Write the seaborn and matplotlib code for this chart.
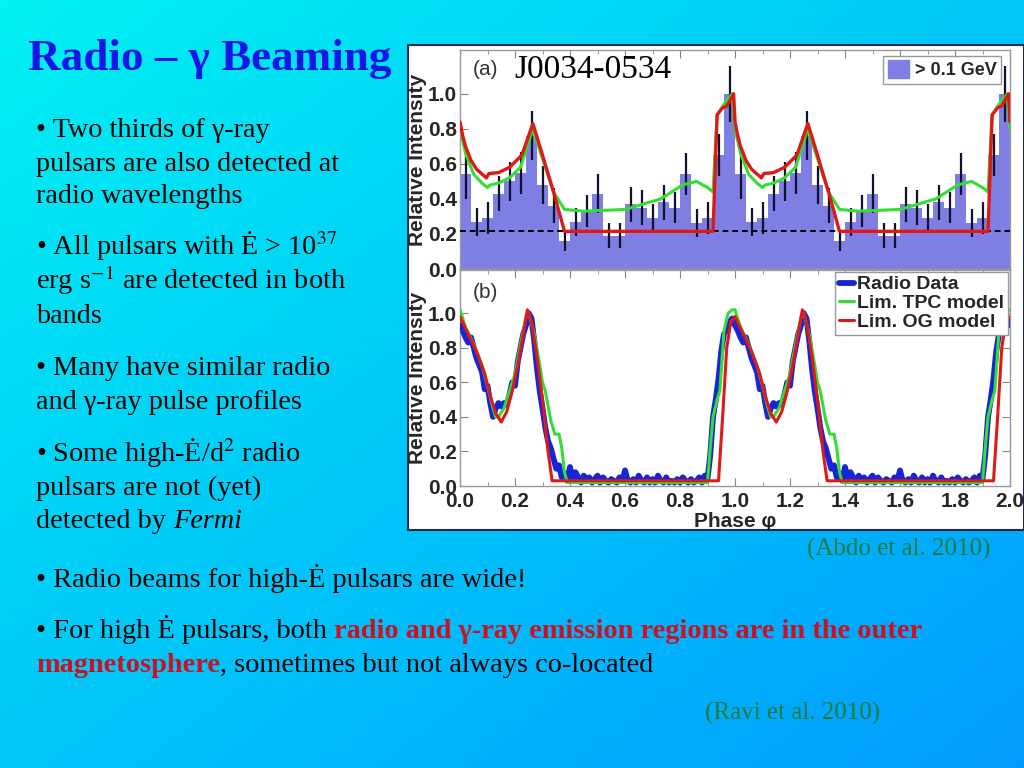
import numpy as np
import matplotlib
matplotlib.use("Agg")
import matplotlib.pyplot as plt
from matplotlib.patches import Patch, Rectangle
from matplotlib.lines import Line2D
import pandas as pd
import seaborn as sns

# gamma-ray light curve (> 0.1 GeV), 25 bins per rotation, shown twice
gamma_counts = [0.54, 0.27, 0.29, 0.43, 0.50, 0.55, 0.76, 0.48, 0.36, 0.16,
                0.27, 0.33, 0.43, 0.19, 0.19, 0.37, 0.35, 0.29, 0.38, 0.35,
                0.54, 0.26, 0.29, 0.65, 1.00]
gamma_err = [0.14, 0.08, 0.09, 0.10, 0.11, 0.12, 0.14, 0.11, 0.10, 0.06,
             0.08, 0.09, 0.11, 0.07, 0.07, 0.10, 0.10, 0.08, 0.10, 0.09,
             0.12, 0.08, 0.09, 0.12, 0.16]
background_level = 0.215

# limited TPC / OG model curves, gamma-ray panel (one rotation)
tpc_gamma_phase = [0.0, 0.02, 0.05, 0.08, 0.10, 0.11, 0.14, 0.18, 0.22, 0.265,
                   0.30, 0.34, 0.38, 0.45, 0.60, 0.73, 0.81, 0.86, 0.90, 0.92,
                   0.935, 0.96, 0.99]
tpc_gamma = [0.80, 0.66, 0.54, 0.49, 0.465, 0.48, 0.49, 0.52, 0.58, 0.80,
             0.63, 0.44, 0.34, 0.33, 0.34, 0.40, 0.48, 0.50, 0.465, 0.44,
             0.88, 0.94, 1.00]
og_gamma_phase = [0.0, 0.01, 0.02, 0.04, 0.06, 0.096, 0.105, 0.14, 0.18, 0.225,
                  0.265, 0.30, 0.34, 0.38, 0.92, 0.935, 0.955, 0.97, 0.995]
og_gamma = [0.84, 0.76, 0.70, 0.62, 0.57, 0.52, 0.545, 0.55, 0.58, 0.65,
            0.83, 0.65, 0.44, 0.215, 0.215, 0.88, 0.92, 0.93, 1.00]

# radio profile, one value every 0.01 in phase
radio = [0.93, 0.90, 0.86, 0.83, 0.86, 0.80, 0.74, 0.70, 0.66, 0.56,
         0.58, 0.48, 0.40, 0.45, 0.48, 0.46, 0.48, 0.47, 0.53, 0.60,
         0.58, 0.72, 0.80, 0.88, 0.93, 1.00, 0.97, 0.84, 0.68, 0.55,
         0.45, 0.34, 0.26, 0.22, 0.16, 0.10, 0.12, 0.05, 0.07, 0.03,
         0.11, 0.04, 0.08, 0.05, 0.02, 0.06, 0.03, 0.05, 0.02, 0.04,
         0.06, 0.02, 0.05, 0.03, 0.02, 0.04, 0.03, 0.02, 0.05, 0.03,
         0.09, 0.03, 0.02, 0.04, 0.02, 0.06, 0.03, 0.02, 0.05, 0.02,
         0.04, 0.02, 0.06, 0.03, 0.02, 0.05, 0.02, 0.03, 0.02, 0.04,
         0.02, 0.05, 0.03, 0.02, 0.04, 0.02, 0.03, 0.05, 0.02, 0.06,
         0.04, 0.18, 0.40, 0.50, 0.62, 0.78, 0.88, 0.90, 0.95, 0.97]
radio_phase = [i / 100 for i in range(100)]

# limited TPC / OG model curves, radio panel (one rotation)
tpc_radio_phase = [0.0, 0.02, 0.05, 0.08, 0.10, 0.12, 0.13, 0.14, 0.16, 0.18,
                   0.20, 0.22, 0.24, 0.25, 0.27, 0.29, 0.30, 0.31, 0.33, 0.345,
                   0.36, 0.37, 0.38, 0.39, 0.90, 0.91, 0.92, 0.935, 0.945, 0.96,
                   0.975, 0.99]
tpc_radio = [1.02, 0.92, 0.82, 0.70, 0.58, 0.45, 0.40, 0.40, 0.45, 0.55,
             0.65, 0.82, 0.98, 1.00, 0.88, 0.70, 0.60, 0.55, 0.38, 0.30,
             0.30, 0.22, 0.08, 0.02, 0.02, 0.22, 0.40, 0.50, 0.55, 0.90,
             1.00, 1.02]
og_radio_phase = [0.0, 0.03, 0.06, 0.09, 0.11, 0.13, 0.15, 0.17, 0.19, 0.21,
                  0.23, 0.245, 0.26, 0.28, 0.30, 0.32, 0.335, 0.94, 0.955, 0.97,
                  0.985]
og_radio = [0.98, 0.88, 0.78, 0.65, 0.52, 0.42, 0.37, 0.43, 0.55, 0.70,
            0.88, 1.02, 0.95, 0.75, 0.50, 0.20, 0.03, 0.03, 0.40, 0.80,
            0.95]


def two_turns(phase, values):
    ph = list(phase) + [p + 1 for p in phase] + [2.0]
    vals = list(values) + list(values) + [values[0]]
    return ph, vals


W, H = 1024, 768


def fx(x):
    return x / W


def fy(y):
    return 1 - y / H


sns.set_style("ticks")
plt.rcParams['font.family'] = ['Liberation Sans', 'DejaVu Sans']
plt.rcParams['mathtext.fontset'] = 'stix'

hist_color = '#7f7fe3'
radio_color = '#1626d6'
tpc_color = '#33dd33'
og_color = '#e01818'

fig = plt.figure(figsize=(10.24, 7.68), dpi=100)

# slide background
bg = fig.add_axes([0, 0, 1, 1])
gx, gy = np.meshgrid(np.linspace(0, 1, 256), np.linspace(0, 1, 192))
t = (gx + gy) / 2
c0 = np.array([0.0, 0.95, 0.95])
c1 = np.array([0.0, 0.61, 1.0])
img = c0[None, None, :] * (1 - t[..., None]) + c1[None, None, :] * t[..., None]
bg.imshow(img, extent=[0, 1, 0, 1], aspect='auto', origin='upper')
bg.add_patch(Rectangle((fx(408), fy(530)), fx(1024) - fx(408), fy(45) - fy(530),
                       facecolor='white', edgecolor='#1a2a55', lw=1.5))
bg.set_xlim(0, 1)
bg.set_ylim(0, 1)
bg.axis('off')

# chart panels
ax1 = fig.add_axes([fx(460), fy(269), fx(1010) - fx(460), fy(50) - fy(269)])
ax2 = fig.add_axes([fx(460), fy(486), fx(1010) - fx(460), fy(270) - fy(486)])

bin_centers = [0.02 + 0.04 * i for i in range(50)]
hist_df = pd.DataFrame({'phase': bin_centers, 'counts': gamma_counts * 2,
                        'err': gamma_err * 2})
sns.histplot(data=hist_df, x='phase', weights='counts', bins=50, binrange=(0, 2),
             color=hist_color, alpha=1, linewidth=0, ax=ax1)
ax1.errorbar(hist_df['phase'], hist_df['counts'], yerr=hist_df['err'], fmt='none',
             ecolor='#101030', elinewidth=1.6, capsize=0, zorder=3)
ax1.axhline(background_level, color='black', ls=(0, (3, 2)), lw=1.4, zorder=3)
ph, v = two_turns(tpc_gamma_phase, tpc_gamma)
sns.lineplot(x=ph, y=v, color=tpc_color, lw=2.2, estimator=None, sort=False, ax=ax1, zorder=4)
ph, v = two_turns(og_gamma_phase, og_gamma)
sns.lineplot(x=ph, y=v, color=og_color, lw=2.4, estimator=None, sort=False, ax=ax1, zorder=5)

ph, v = two_turns(radio_phase, radio)
sns.lineplot(x=ph, y=v, color=radio_color, lw=4.2, estimator=None, sort=False, ax=ax2, zorder=3)
ph, v = two_turns(tpc_radio_phase, tpc_radio)
sns.lineplot(x=ph, y=v, color=tpc_color, lw=2.2, estimator=None, sort=False, ax=ax2, zorder=4)
ph, v = two_turns(og_radio_phase, og_radio)
sns.lineplot(x=ph, y=v, color=og_color, lw=2.2, estimator=None, sort=False, ax=ax2, zorder=5)

for ax in (ax1, ax2):
    ax.set_xlim(0, 2)
    ax.set_ylim(0, 1.25)
    ax.set_yticks([0.0, 0.2, 0.4, 0.6, 0.8, 1.0])
    ax.set_xticks(np.arange(0, 2.01, 0.2))
    ax.set_xticks(np.arange(0, 2.01, 0.1), minor=True)
    ax.tick_params(axis='both', which='both', direction='in', top=True, right=True,
                   color='#888888', labelsize=15, pad=2)
    ax.tick_params(axis='x', pad=4)
    ax.tick_params(which='major', length=6)
    ax.tick_params(which='minor', length=3)
    for s in ax.spines.values():
        s.set_color('#999999')
        s.set_linewidth(1)
    ax.set_ylabel('Relative Intensity', fontsize=15, fontweight='bold', labelpad=1)
    ax.yaxis.set_major_formatter(matplotlib.ticker.FormatStrFormatter('%.1f'))
    ax.xaxis.set_major_formatter(matplotlib.ticker.FormatStrFormatter('%.1f'))
    for lab in ax.get_xticklabels() + ax.get_yticklabels():
        lab.set_fontweight('bold')

ax1.tick_params(labelbottom=False)
ax1.set_xlabel('')
ax2.set_xlabel('Phase φ', fontsize=15, fontweight='bold', labelpad=1)

ax1.text(0.045, 1.137, '(a)', fontsize=15, color='#333333', va='center')
ax1.text(0.196, 1.137, 'J0034-0534', family='Liberation Serif', fontsize=24,
         color='black', va='center')
ax2.text(0.045, 1.12, '(b)', fontsize=15, color='#333333', va='center')

ax1.legend(handles=[Patch(color=hist_color, label='> 0.1 GeV')], loc='upper right',
           bbox_to_anchor=(0.99, 0.99), fancybox=False, edgecolor='#999999',
           framealpha=1, prop={'weight': 'bold', 'size': 13}, handlelength=1.2,
           handleheight=1.1, handletextpad=0.3, borderpad=0.25, borderaxespad=0.2)
ax2.legend(handles=[Line2D([], [], color=radio_color, lw=4.2, label='Radio Data'),
                    Line2D([], [], color=tpc_color, lw=2.2, label='Lim. TPC model'),
                    Line2D([], [], color=og_color, lw=2.2, label='Lim. OG model')],
           loc='upper right', bbox_to_anchor=(1.0, 1.0), fancybox=False,
           edgecolor='#999999', framealpha=1, prop={'weight': 'bold', 'size': 14},
           handlelength=0.8, handletextpad=0.15, labelspacing=0.05, borderpad=0.2,
           borderaxespad=0.1)

# slide text
bg.text(fx(28), fy(70), 'Radio – γ Beaming', transform=bg.transAxes,
        family='Liberation Serif', fontsize=32.5, fontweight='bold', color='#1616e6',
        va='baseline')

body = dict(family='Liberation Serif', fontsize=20.3, fontweight='normal',
            color='black')

bullet_lines = [
    (137, '• Two thirds of γ-ray'),
    (171, 'pulsars are also detected at'),
    (203, 'radio wavelengths'),
    (254, '• All pulsars with Ė > 10$^{37}$'),
    (289, 'erg s$^{-1}$ are detected in both'),
    (323, 'bands'),
    (375, '• Many have similar radio'),
    (409, 'and γ-ray pulse profiles'),
    (461, '• Some high-Ė/d$^{2}$ radio'),
    (495, 'pulsars are not (yet)'),
]
for yy, s in bullet_lines:
    bg.text(fx(36), fy(yy), s, transform=bg.transAxes, va='baseline', **body)


def chain(parts, x, y, size):
    txt, kw = parts[0]
    prev = bg.text(fx(x), fy(y), txt, transform=bg.transAxes, va='baseline',
                   **{**body, 'fontsize': size, **kw})
    for txt, kw in parts[1:]:
        prev = bg.annotate(txt, xy=(1, 0), xycoords=prev, va='bottom', ha='left',
                           **{**body, 'fontsize': size, **kw})


red_bold = {'color': '#cc1122', 'fontweight': 'bold'}
chain([('detected by ', {}), ('Fermi', {'style': 'italic'})], 36, 528, 20.3)
chain([('• Radio beams for high-Ė pulsars are wide!', {})], 36, 587, 20.4)
chain([('• For high Ė pulsars, both ', {}),
       ('radio and γ-ray emission regions are in the outer', red_bold)], 36, 638, 20.4)
chain([('magnetosphere', red_bold), (', sometimes but not always co-located', {})],
      36, 672, 20.4)

cite = dict(family='Liberation Serif', fontsize=18, color='#1f7a3a', va='center')
bg.text(fx(990), fy(549), '(Abdo et al. 2010)', transform=bg.transAxes, ha='right', **cite)
bg.text(fx(880), fy(713), '(Ravi et al. 2010)', transform=bg.transAxes, ha='right', **cite)

fig.savefig('out.png', dpi=100)
